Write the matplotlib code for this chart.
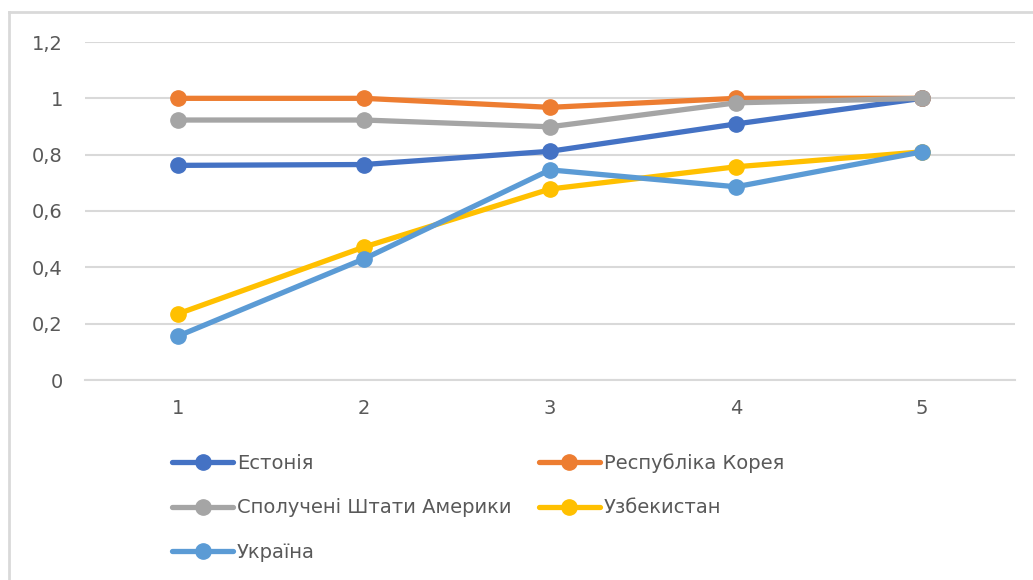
import matplotlib
matplotlib.use("Agg")
import matplotlib.pyplot as plt
from matplotlib.ticker import FuncFormatter, FixedLocator
from matplotlib.lines import Line2D

categories = [1, 2, 3, 4, 5]
estonia = [0.762, 0.765, 0.812, 0.909, 1.0]
korea = [1.0, 1.0, 0.968, 1.0, 1.0]
usa = [0.923, 0.923, 0.899, 0.984, 1.0]
uzbekistan = [0.235, 0.472, 0.678, 0.757, 0.81]
ukraine = [0.156, 0.43, 0.746, 0.686, 0.81]

series_names = ["Естонія", "Республіка Корея", "Сполучені Штати Америки", "Узбекистан", "Україна"]
series_values = [estonia, korea, usa, uzbekistan, ukraine]
colors = ["#4472C4", "#ED7D31", "#A5A5A5", "#FFC000", "#5B9BD5"]
y_ticks = [0, 0.2, 0.4, 0.6, 0.8, 1.0, 1.2]

plt.rcParams['font.family'] = ['DejaVu Sans']

W, H = 1033, 580
fig = plt.figure(figsize=(W / 100, H / 100), dpi=100)
ax = fig.add_axes([85 / W, 1 - 380 / H, (1015 - 85) / W, (380 - 42) / H])

lines = []
for name, vals, c in zip(series_names, series_values, colors):
    ln, = ax.plot(categories, vals, color=c, lw=3.8, marker='o', markersize=11,
                  solid_capstyle='round', label=name, clip_on=False)
    lines.append(ln)

ax.set_xlim(0.5, 5.5)
ax.set_ylim(0, 1.2)
ax.yaxis.set_major_locator(FixedLocator(y_ticks))
ax.set_xticks(categories)
ax.yaxis.set_major_formatter(FuncFormatter(lambda v, p: ("%g" % round(v, 2)).replace('.', ',')))
ax.grid(axis='y', color='#D9D9D9', lw=1.5)
ax.set_axisbelow(True)
for s in ['left', 'right', 'top']:
    ax.spines[s].set_visible(False)
ax.spines['bottom'].set_color('#D9D9D9')
ax.spines['bottom'].set_linewidth(1.5)
ax.tick_params(axis='both', length=0, labelsize=14, labelcolor='#595959')
ax.tick_params(axis='y', pad=16)
ax.tick_params(axis='x', pad=14)

# chart border (top and left edges visible)
fig.add_artist(Line2D([9 / W, 9 / W], [0, 1 - 12 / H], transform=fig.transFigure,
                      color='#D9D9D9', lw=2))
fig.add_artist(Line2D([9 / W, 1], [1 - 12 / H, 1 - 12 / H], transform=fig.transFigure,
                      color='#D9D9D9', lw=2))

# legend order row-major in 2 columns
order = [0, 2, 4, 1, 3]
leg = fig.legend([lines[i] for i in order], [series_names[i] for i in order],
                 ncol=2, loc='upper left',
                 bbox_to_anchor=(172 / W, 1 - 453 / H), frameon=False,
                 fontsize=14, labelcolor='#595959', handlelength=3.15,
                 handletextpad=0.2, columnspacing=1.4, labelspacing=1.32,
                 borderaxespad=0, borderpad=0)

fig.savefig("out.png", dpi=100, facecolor='white')
